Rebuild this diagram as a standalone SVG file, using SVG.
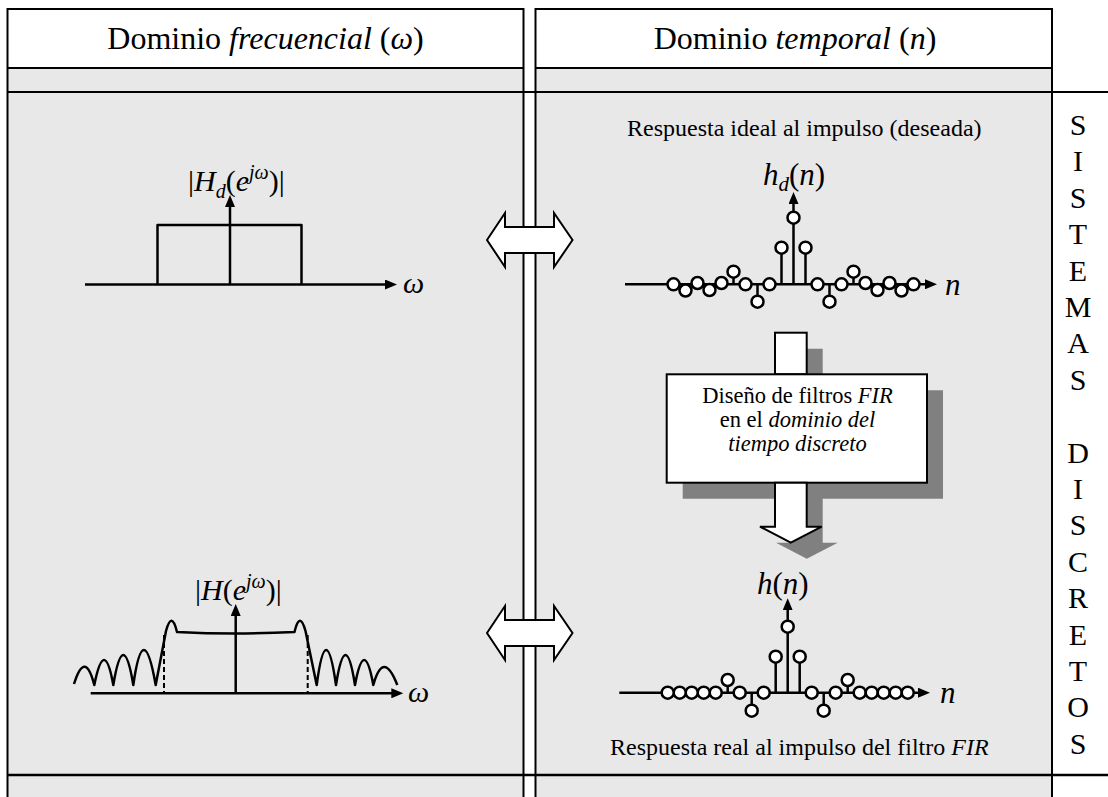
<svg xmlns="http://www.w3.org/2000/svg" width="1108" height="797" viewBox="0 0 1108 797">
<style>
text{font-family:"Liberation Serif","Times New Roman",serif;fill:#000}
.it{font-style:italic}
.frame{fill:none;stroke:#000;stroke-width:2}
.grey{fill:#e8e8e8}
.ax{fill:none;stroke:#000;stroke-width:2.5}
.st{stroke:#000;stroke-width:2.5}
.smp{fill:#fff;stroke:#000;stroke-width:2.5}
.curve{fill:none;stroke:#000;stroke-width:2.5;stroke-linejoin:round}
.dash{stroke:#000;stroke-width:2;stroke-dasharray:5,3}
.dbl{fill:#fff;stroke:#000;stroke-width:2;stroke-linejoin:miter}
.white{fill:#fff;stroke:#000;stroke-width:2}
.shadow{fill:#808080}
</style>
<defs>
<marker id="ah" markerUnits="userSpaceOnUse" markerWidth="13" markerHeight="10" refX="2" refY="5" orient="auto">
<path d="M0,0 L12,5 L0,10 z" fill="#000"/>
</marker>
</defs>
<rect width="1108" height="797" fill="#fff"/>

<g id="panel-frequency">
<rect class="grey" x="7.5" y="68" width="516" height="729"/>
<rect fill="#fff" x="7.5" y="9" width="516" height="59"/>
<path class="frame" d="M7.5,797 V9 H523.5 V797 M7.5,68 H523.5"/>
<text x="265.5" y="49" font-size="32" text-anchor="middle">Dominio <tspan class="it">frecuencial</tspan> (<tspan class="it">ω</tspan>)</text>
</g>

<g id="panel-time">
<rect class="grey" x="535.5" y="68" width="516.5" height="729"/>
<rect fill="#fff" x="535.5" y="9" width="516.5" height="59"/>
<path class="frame" d="M535.5,797 V9 H1052 V797 M535.5,68 H1052"/>
<text x="795" y="49" font-size="32" text-anchor="middle">Dominio <tspan class="it">temporal</tspan> (<tspan class="it">n</tspan>)</text>
</g>

<g id="rules">
<path class="frame" d="M7.5,92 H1108"/>
<path fill="none" stroke="#000" stroke-width="2.5" d="M7.5,775 H1108"/>
</g>

<g id="side-label" font-size="30" text-anchor="middle">
<text x="1078" y="135">S</text>
<text x="1078" y="171.4">I</text>
<text x="1078" y="207.8">S</text>
<text x="1078" y="244.2">T</text>
<text x="1078" y="280.6">E</text>
<text x="1078" y="317">M</text>
<text x="1078" y="353.4">A</text>
<text x="1078" y="389.8">S</text>
<text x="1078" y="462.6">D</text>
<text x="1078" y="499">I</text>
<text x="1078" y="535.4">S</text>
<text x="1078" y="571.8">C</text>
<text x="1078" y="608.2">R</text>
<text x="1078" y="644.6">E</text>
<text x="1078" y="681">T</text>
<text x="1078" y="717.4">O</text>
<text x="1078" y="753.8">S</text>
</g>

<g id="plot-ideal-frequency">
<line class="ax" x1="85" y1="284.5" x2="387" y2="284.5" marker-end="url(#ah)"/>
<line class="ax" x1="230" y1="284.5" x2="230" y2="205" marker-end="url(#ah)"/>
<path class="curve" d="M157.5,284.5 V225 H301.5 V284.5"/>
<text x="188" y="191" font-size="30">|<tspan class="it">H</tspan><tspan class="it" font-size="20" dy="7">d</tspan><tspan dy="-7">(</tspan><tspan class="it">e</tspan><tspan class="it" font-size="20" dy="-12">jω</tspan><tspan dy="12">)|</tspan></text>
<text class="it" x="403" y="293" font-size="30">ω</text>
</g>

<g id="plot-ideal-time">
<text x="627" y="136" font-size="24">Respuesta ideal al impulso (deseada)</text>
<line class="ax" x1="625" y1="284.3" x2="927" y2="284.3" marker-end="url(#ah)"/>
<line class="ax" x1="793.5" y1="284.3" x2="793.5" y2="202" marker-end="url(#ah)"/>
<path class="st" d="M781.5,284.3 V247.7 M805.5,284.3 V247.7 M757.5,284.3 V301.7 M829.5,284.3 V301.7 M733.5,284.3 V271.7 M853.5,284.3 V271.7"/>
<g class="smp">
<circle cx="793.5" cy="217.7" r="6"/>
<circle cx="781.5" cy="247.7" r="6"/><circle cx="805.5" cy="247.7" r="6"/>
<circle cx="769.5" cy="284.3" r="6"/><circle cx="817.5" cy="284.3" r="6"/>
<circle cx="757.5" cy="301.7" r="6"/><circle cx="829.5" cy="301.7" r="6"/>
<circle cx="745.5" cy="284.3" r="6"/><circle cx="841.5" cy="284.3" r="6"/>
<circle cx="733.5" cy="271.7" r="6"/><circle cx="853.5" cy="271.7" r="6"/>
<circle cx="721.5" cy="283" r="6"/><circle cx="865.5" cy="283" r="6"/>
<circle cx="709.5" cy="290" r="6"/><circle cx="877.5" cy="290" r="6"/>
<circle cx="697.5" cy="283" r="6"/><circle cx="889.5" cy="283" r="6"/>
<circle cx="685.5" cy="290.5" r="6"/><circle cx="901.5" cy="290.5" r="6"/>
<circle cx="673.5" cy="284.3" r="6"/><circle cx="913.5" cy="284.3" r="6"/>
</g>
<text x="763" y="185" font-size="31"><tspan class="it">h</tspan><tspan class="it" font-size="21" dy="6">d</tspan><tspan dy="-6">(</tspan><tspan class="it">n</tspan>)</text>
<text class="it" x="945" y="295" font-size="31">n</text>
</g>

<g id="design-step">
<path class="shadow" transform="translate(16,16)" d="M775,332.7 H806.7 V374.3 H927 V482.7 H806.7 V526.7 H821.7 L790.8,542.7 L760,526.7 H775 V482.7 H666.7 V374.3 H775 Z"/>
<rect class="white" x="775" y="332.7" width="31.7" height="41.6"/>
<rect class="white" x="666.7" y="374.3" width="260.3" height="108.4"/>
<path class="white" d="M775,482.7 V526.7 H760 L790.8,542.7 L821.7,526.7 H806.7 V482.7 Z"/>
<text x="797.5" y="403" font-size="22.5" text-anchor="middle">Diseño de filtros <tspan class="it">FIR</tspan></text>
<text x="797.5" y="427" font-size="22.5" text-anchor="middle">en el <tspan class="it">dominio del</tspan></text>
<text class="it" x="797.5" y="451" font-size="22.5" text-anchor="middle">tiempo discreto</text>
</g>

<g id="plot-real-frequency">
<line class="ax" x1="90.7" y1="693.3" x2="393.3" y2="693.3" marker-end="url(#ah)"/>
<line class="ax" x1="235.7" y1="693.3" x2="235.7" y2="614" marker-end="url(#ah)"/>
<line class="dash" x1="164" y1="635" x2="164" y2="693"/>
<line class="dash" x1="307.7" y1="635" x2="307.7" y2="693"/>
<path class="curve" d="M74,684 Q85,649 94.3,685 Q104.3,635 113.3,685 Q123.3,625 133.3,685 Q143.3,615 155.7,685 L166,631 Q171.7,610 177,632 Q235.7,635 294.5,632 Q299.7,610 305.5,631 L316.7,685 Q326,615 336,685 Q345.5,625 355,685 Q364.2,635 373.3,685 Q383.3,649 397.3,685"/>
<text x="195" y="600" font-size="30">|<tspan class="it">H</tspan>(<tspan class="it">e</tspan><tspan class="it" font-size="20" dy="-12">jω</tspan><tspan dy="12">)|</tspan></text>
<text class="it" x="408" y="702" font-size="30">ω</text>
</g>

<g id="plot-real-time">
<line class="ax" x1="619.3" y1="692.7" x2="920" y2="692.7" marker-end="url(#ah)"/>
<line class="ax" x1="787.7" y1="692.7" x2="787.7" y2="608.3" marker-end="url(#ah)"/>
<path class="st" d="M775.7,692.7 V656.7 M799.7,692.7 V656.7 M751.7,692.7 V710.7 M823.7,692.7 V710.7 M727.7,692.7 V680 M847.7,692.7 V680"/>
<g class="smp">
<circle cx="787.7" cy="626.7" r="6"/>
<circle cx="775.7" cy="656.7" r="6"/><circle cx="799.7" cy="656.7" r="6"/>
<circle cx="763.7" cy="692.7" r="6"/><circle cx="811.7" cy="692.7" r="6"/>
<circle cx="751.7" cy="710.7" r="6"/><circle cx="823.7" cy="710.7" r="6"/>
<circle cx="739.7" cy="692.7" r="6"/><circle cx="835.7" cy="692.7" r="6"/>
<circle cx="727.7" cy="680" r="6"/><circle cx="847.7" cy="680" r="6"/>
<circle cx="715.7" cy="692.7" r="6"/><circle cx="859.7" cy="692.7" r="6"/>
<circle cx="703.7" cy="692.7" r="6"/><circle cx="871.7" cy="692.7" r="6"/>
<circle cx="691.7" cy="692.7" r="6"/><circle cx="883.7" cy="692.7" r="6"/>
<circle cx="679.7" cy="692.7" r="6"/><circle cx="895.7" cy="692.7" r="6"/>
<circle cx="667.7" cy="692.7" r="6"/><circle cx="907.7" cy="692.7" r="6"/>
</g>
<text x="757" y="594" font-size="31"><tspan class="it">h</tspan>(<tspan class="it">n</tspan>)</text>
<text class="it" x="940" y="703" font-size="31">n</text>
<text x="610" y="755" font-size="24">Respuesta real al impulso del filtro <tspan class="it">FIR</tspan></text>
</g>

<g id="connectors">
<polygon class="dbl" points="487,240 505,213 505,227 554,227 554,213 572.5,240 554,267 554,253 505,253 505,267"/>
<polygon class="dbl" points="487,633 505,606 505,620 554,620 554,606 572.5,633 554,660 554,646 505,646 505,660"/>
</g>
</svg>
